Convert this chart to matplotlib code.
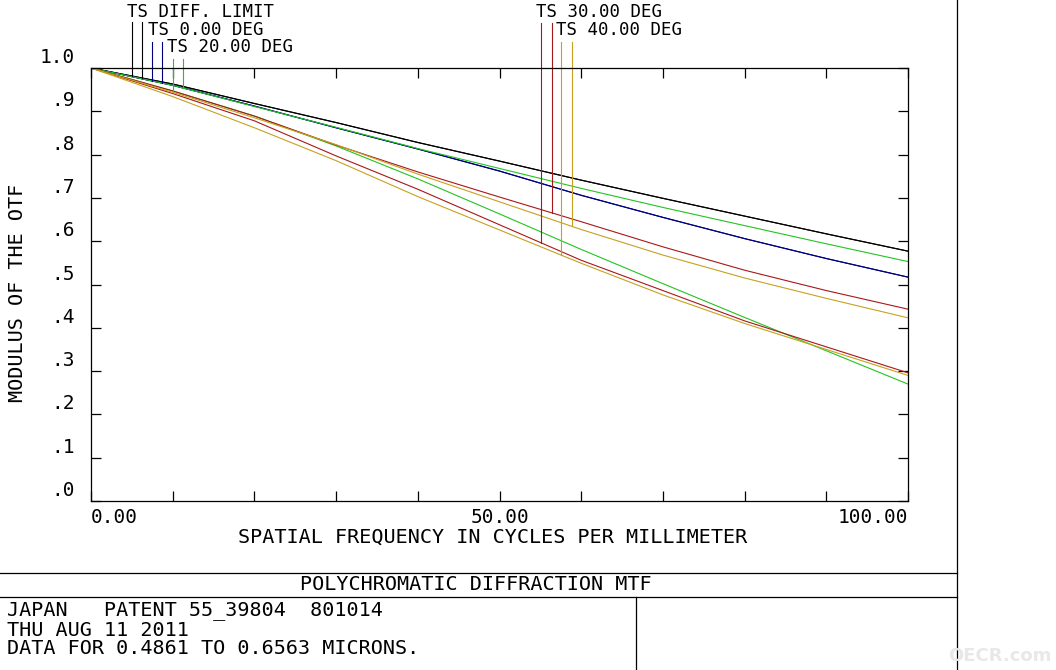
import numpy as np
import matplotlib
matplotlib.use('Agg')
from matplotlib import pyplot as plt
from matplotlib.lines import Line2D

freq = [0, 10, 20, 30, 40, 50, 60, 70, 80, 90, 100]

# MTF values, T = tangential, S = sagittal
diff_limit = [1.0, 0.963, 0.918, 0.874, 0.828, 0.785, 0.741, 0.699, 0.658, 0.617, 0.577]
deg0 = [1.0, 0.960, 0.912, 0.862, 0.813, 0.762, 0.706, 0.655, 0.606, 0.560, 0.517]
deg20_t = [1.0, 0.947, 0.889, 0.820, 0.744, 0.663, 0.581, 0.502, 0.424, 0.347, 0.270]
deg20_s = [1.0, 0.960, 0.911, 0.863, 0.814, 0.768, 0.722, 0.678, 0.636, 0.594, 0.553]
deg30_t = [1.0, 0.941, 0.878, 0.797, 0.720, 0.638, 0.556, 0.486, 0.416, 0.356, 0.296]
deg30_s = [1.0, 0.947, 0.889, 0.822, 0.760, 0.702, 0.645, 0.587, 0.533, 0.486, 0.443]
deg40_t = [1.0, 0.934, 0.862, 0.786, 0.703, 0.626, 0.549, 0.476, 0.410, 0.350, 0.290]
deg40_s = [1.0, 0.944, 0.885, 0.823, 0.755, 0.691, 0.627, 0.568, 0.515, 0.468, 0.423]

# legend labels and the frequencies where their T / S leader lines hit the curves
labels = ['TS DIFF. LIMIT', 'TS 0.00 DEG', 'TS 20.00 DEG', 'TS 30.00 DEG', 'TS 40.00 DEG']
leader_freq = [(5.0, 6.2), (7.5, 8.7), (10.0, 11.3), (55.1, 56.4), (57.5, 58.9)]

y_ticks = [1.0, 0.9, 0.8, 0.7, 0.6, 0.5, 0.4, 0.3, 0.2, 0.1, 0.0]
y_ticklabels = ['1.0', '.9', '.8', '.7', '.6', '.5', '.4', '.3', '.2', '.1', '.0']

info_lines = ['JAPAN   PATENT 55_39804  801014',
              'THU AUG 11 2011',
              'DATA FOR 0.4861 TO 0.6563 MICRONS.']

colors = ['#000000', '#000080', '#22c422', '#a81818', '#c8a020']
curves = [(diff_limit, diff_limit), (deg0, deg0), (deg20_t, deg20_s),
          (deg30_t, deg30_s), (deg40_t, deg40_s)]

plt.rcParams['font.family'] = ['DejaVu Sans Mono']

W, H = 1056, 670
fig = plt.figure(figsize=(W / 100, H / 100), dpi=100)
ax = fig.add_axes([91 / W, 1 - 501 / H, 817 / W, 433 / H])

for (t, s), c in zip(curves, colors):
    ax.plot(freq, t, color=c, lw=0.8)
    ax.plot(freq, s, color=c, lw=0.8)

ax.set_xlim(0, 100)
ax.set_ylim(0, 1.0)

# leader lines from the labels down to the curves
tops = [1.106, 1.060, 1.021, 1.104, 1.060]
for (ft, fs), (t, s), c, top in zip(leader_freq, curves, colors, tops):
    for f, ser in ((ft, t), (fs, s)):
        yv = np.interp(f, freq, ser)
        ax.plot([f, f], [yv, top], color=c, lw=0.8, clip_on=False)

label_pos = [(127, 12), (148, 30), (167, 47), (536, 12), (556, 30)]
for lab, (px, py) in zip(labels, label_pos):
    fig.text(px / W, 1 - py / H, lab, fontsize=12.5, va='center', ha='left')

# ticks
for sp in ax.spines.values():
    sp.set_linewidth(0.9)
ax.set_xticks([0, 50, 100])
ax.set_xticklabels(['0.00', '50.00', '100.00'], fontsize=14)
ax.set_xticks(np.arange(10, 100, 10), minor=True)
ax.tick_params(axis='both', which='both', direction='in', length=7, width=0.9,
               top=True, right=True, pad=5)
xl = ax.get_xticklabels()
xl[0].set_ha('left')
xl[2].set_ha('right')
ax.set_yticks(y_ticks)
ax.set_yticklabels([])
for v, lab in zip(y_ticks, y_ticklabels):
    ax.annotate(lab, xy=(0, v), xycoords=('axes fraction', 'data'),
                xytext=(-11.5, 7.5), textcoords='offset points',
                ha='right', va='center', fontsize=14)

fig.text(493 / W, 1 - 537 / H, 'SPATIAL FREQUENCY IN CYCLES PER MILLIMETER',
         fontsize=14.5, ha='center', va='center')
fig.text(18 / W, 1 - 293 / H, 'MODULUS OF THE OTF', fontsize=14.5,
         rotation=90, ha='center', va='center')

# frame of the plot sheet
def hline(y, x0, x1):
    fig.add_artist(Line2D([x0 / W, x1 / W], [1 - y / H, 1 - y / H], color='black', lw=0.9))

def vline(x, y0, y1):
    fig.add_artist(Line2D([x / W, x / W], [1 - y0 / H, 1 - y1 / H], color='black', lw=0.9))

vline(957, 0, H)
hline(573, 0, 957)
hline(597, 0, 957)
vline(636, 597, H)

fig.text(476 / W, 1 - 585 / H, 'POLYCHROMATIC DIFFRACTION MTF', fontsize=14.5,
         ha='center', va='center')
for i, line in enumerate(info_lines):
    fig.text(7 / W, 1 - (611 + i * 19) / H, line, fontsize=14.5, ha='left', va='center')

fig.text(1000 / W, 1 - 656 / H, 'OECR.com', fontsize=13, ha='center', va='center',
         color='#e8e8e8', fontweight='bold', family='DejaVu Sans')

fig.savefig('out.png', dpi=100)
